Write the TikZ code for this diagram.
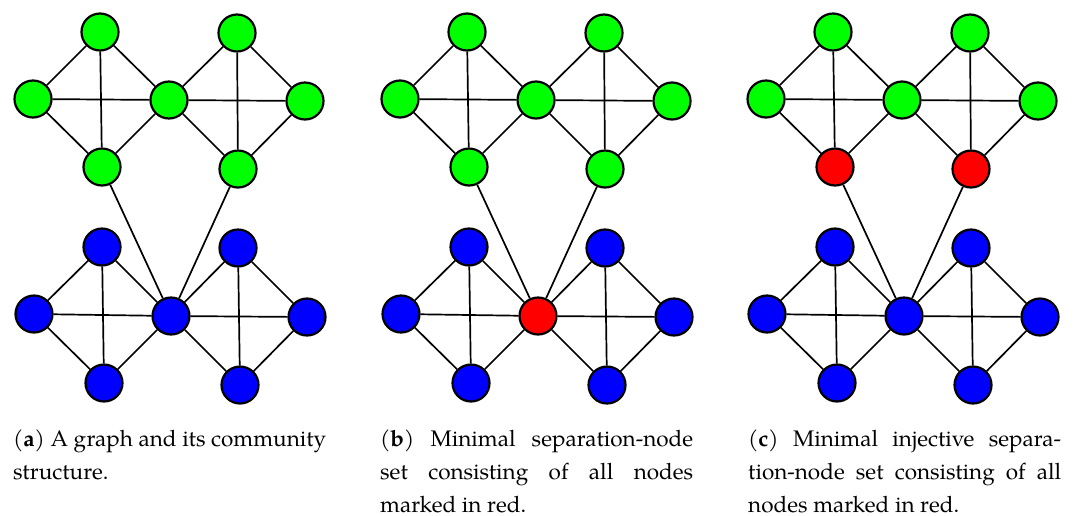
\documentclass[tikz,border=0pt]{standalone}
\usepackage{fontspec}
\setmainfont{texgyrepagella}[Extension=.otf,UprightFont=*-regular,BoldFont=*-bold,ItalicFont=*-italic,BoldItalicFont=*-bolditalic]
\definecolor{ngreen}{RGB}{0,255,0}
\definecolor{nblue}{RGB}{0,0,255}
\definecolor{nred}{RGB}{255,0,0}
\begin{document}
\begin{tikzpicture}[x=1pt,y=-1pt,
  vtx/.style={circle,draw=black,line width=2.2pt,minimum size=37pt,inner sep=0pt},
  edge/.style={line width=1.7pt,draw=black},
  captxt/.style={anchor=base west,inner sep=0pt}]
\useasboundingbox (0,0) rectangle (1078,515);
\foreach \p/\dx/\cg/\cb in {a/0/ngreen/nblue, b/367/ngreen/nred, c/733/nred/nblue}{
  \begin{scope}[xshift=\dx pt]
    % green community
    \node[vtx,fill=ngreen] (\p g1) at (100,32) {};
    \node[vtx,fill=ngreen] (\p g2) at (33,99) {};
    \node[vtx,fill=ngreen] (\p g3) at (169,100) {};
    \node[vtx,fill=\cg]    (\p g4) at (102,167) {};
    \node[vtx,fill=ngreen] (\p g5) at (237,33) {};
    \node[vtx,fill=ngreen] (\p g6) at (305,101) {};
    \node[vtx,fill=\cg]    (\p g7) at (238,169) {};
    % blue community
    \node[vtx,fill=nblue] (\p b1) at (102,247) {};
    \node[vtx,fill=nblue] (\p b2) at (34,314) {};
    \node[vtx,fill=\cb]   (\p b3) at (171,316) {};
    \node[vtx,fill=nblue] (\p b4) at (104,383) {};
    \node[vtx,fill=nblue] (\p b5) at (238,248) {};
    \node[vtx,fill=nblue] (\p b6) at (307,317) {};
    \node[vtx,fill=nblue] (\p b7) at (240,385) {};
  \end{scope}
  \foreach \c in {g,b}{
    \draw[edge] (\p\c1) -- (\p\c2);
    \draw[edge] (\p\c1) -- (\p\c3);
    \draw[edge] (\p\c2) -- (\p\c4);
    \draw[edge] (\p\c3) -- (\p\c4);
    \draw[edge] (\p\c1) -- (\p\c4);
    \draw[edge] (\p\c2) -- (\p\c3);
    \draw[edge] (\p\c5) -- (\p\c3);
    \draw[edge] (\p\c5) -- (\p\c6);
    \draw[edge] (\p\c3) -- (\p\c7);
    \draw[edge] (\p\c6) -- (\p\c7);
    \draw[edge] (\p\c5) -- (\p\c7);
    \draw[edge] (\p\c3) -- (\p\c6);
  }
  \draw[edge] (\p g4) -- (\p b3);
  \draw[edge] (\p g7) -- (\p b3);
}
\node[captxt] (capa) at (13,446) {\parbox[t]{313pt}{\fontsize{22.5}{33}\selectfont
  (\textbf{a}) A graph and its community\linebreak structure.}};
\node[captxt] (capb) at (380,446) {\parbox[t]{313pt}{\fontsize{22.5}{33}\selectfont
  (\textbf{b}) Minimal separation-node\linebreak set consisting of all nodes\linebreak marked in red.}};
\node[captxt] (capc) at (748,446) {\parbox[t]{313pt}{\fontsize{22.5}{33}\selectfont
  (\textbf{c}) Minimal injective separa-\linebreak tion-node set consisting of all\linebreak nodes marked in red.}};
\end{tikzpicture}
\end{document}
